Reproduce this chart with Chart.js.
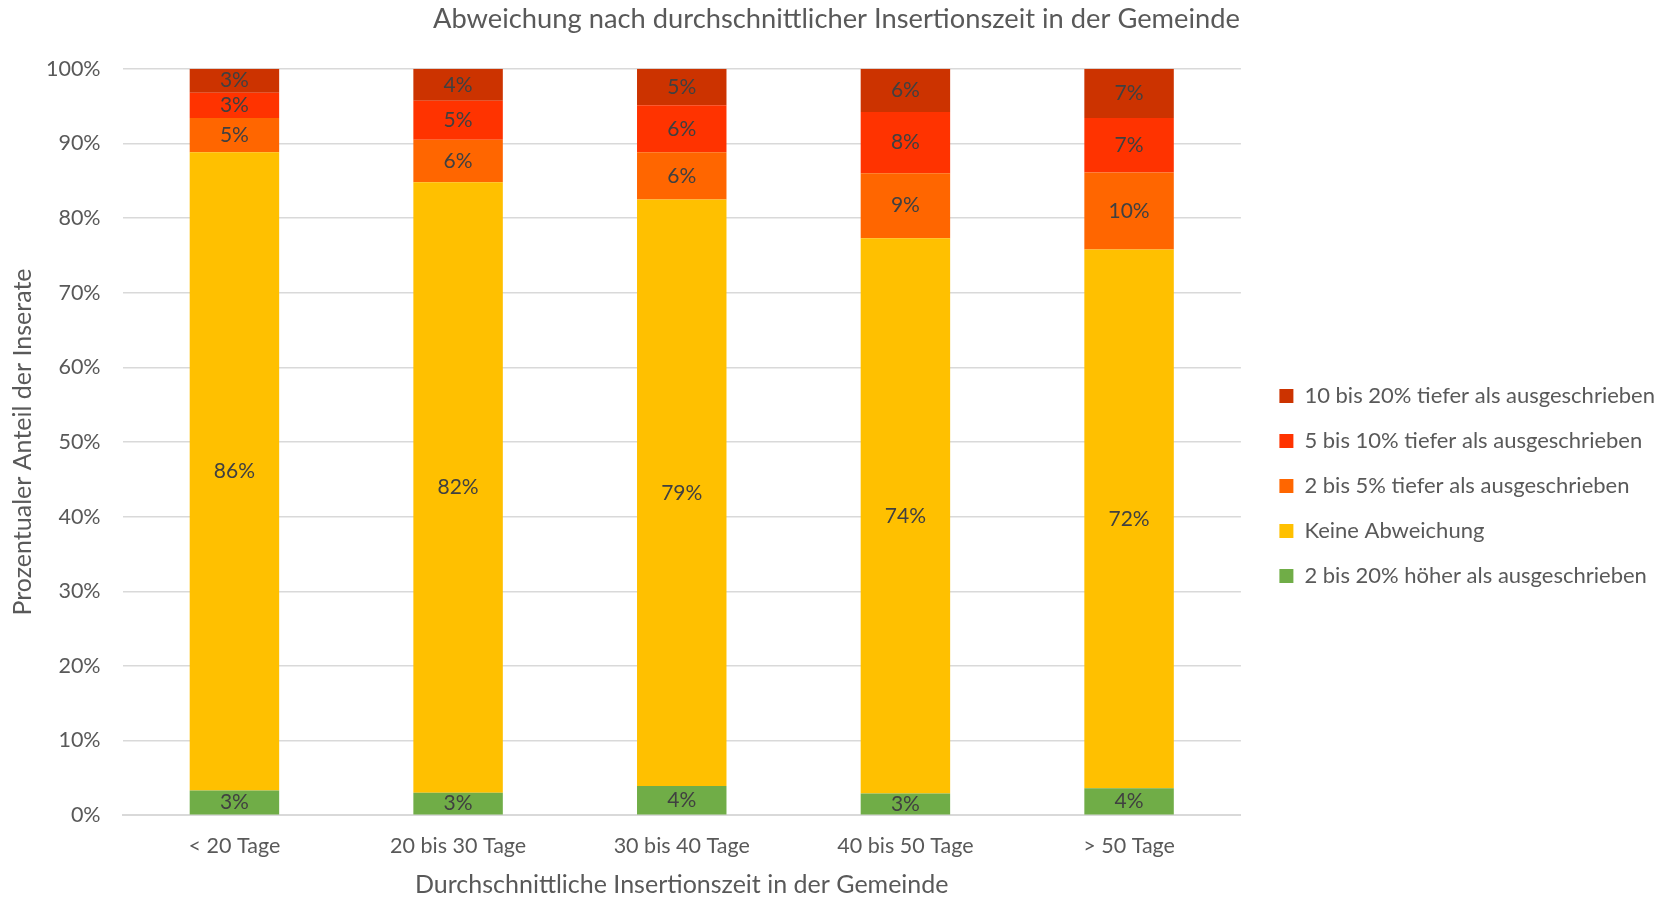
<!DOCTYPE html>
<html>
<head>
<meta charset="utf-8">
<script src="https://cdn.jsdelivr.net/npm/chart.js@4/dist/chart.umd.min.js"></script>
<style>
  body { margin: 0; background: #fff; }
  #wrap { width: 1671px; height: 897px; }
</style>
</head>
<body>
<div id="wrap"><canvas id="chart" width="1671" height="897"></canvas></div>
<script>
// categories and series (percent of listings)
const categories = ['< 20 Tage', '20 bis 30 Tage', '30 bis 40 Tage', '40 bis 50 Tage', '> 50 Tage'];
const hoeher = [3.3, 3.0, 3.9, 2.9, 3.6];
const keineAbw = [85.5, 81.8, 78.6, 74.4, 72.2];
const tiefer2bis5 = [4.6, 5.7, 6.3, 8.7, 10.3];
const tiefer5bis10 = [3.4, 5.2, 6.3, 8.2, 7.3];
const tiefer10bis20 = [3.2, 4.3, 4.9, 5.8, 6.6];
const yTicks = [0, 10, 20, 30, 40, 50, 60, 70, 80, 90, 100];

const font = 'Lato, "Open Sans", sans-serif';
const textColor = '#595959';
const legendGapPx = 15.5;

// small plugin to write the rounded value in the middle of each segment
const segmentLabels = {
    id: 'segmentLabels',
    afterDatasetsDraw(chart) {
        const ctx = chart.ctx;
        ctx.save();
        ctx.font = '21px ' + font;
        ctx.fillStyle = '#404040';
        ctx.textAlign = 'center';
        ctx.textBaseline = 'middle';
        chart.data.datasets.forEach((ds, i) => {
            chart.getDatasetMeta(i).data.forEach((bar, j) => {
                const mid = (bar.y + bar.base) / 2;
                ctx.fillText(Math.round(ds.data[j]) + '%', bar.x, mid);
            });
        });
        ctx.restore();
    }
};

// widen the space between plot area and legend
const legendGap = {
    id: 'legendGap',
    beforeLayout(chart) {
        const lg = chart.legend;
        if (lg && !lg._gapPatched) {
            lg._gapPatched = true;
            const origFit = lg.fit;
            lg.fit = function () {
                origFit.call(this);
                this.width += legendGapPx;
            };
        }
    },
    afterLayout(chart) {
        if (chart.legend) chart.legend.left += legendGapPx;
    }
};

new Chart(document.getElementById('chart'), {
    type: 'bar',
    data: {
        labels: categories,
        datasets: [
            { label: '2 bis 20% höher als ausgeschrieben', data: hoeher, backgroundColor: '#70AD47' },
            { label: 'Keine Abweichung', data: keineAbw, backgroundColor: '#FFC000' },
            { label: '2 bis 5% tiefer als ausgeschrieben', data: tiefer2bis5, backgroundColor: '#FF6600' },
            { label: '5 bis 10% tiefer als ausgeschrieben', data: tiefer5bis10, backgroundColor: '#FF3300' },
            { label: '10 bis 20% tiefer als ausgeschrieben', data: tiefer10bis20, backgroundColor: '#CC3300' }
        ]
    },
    options: {
        responsive: false,
        animation: false,
        datasets: { bar: { barPercentage: 1, categoryPercentage: 0.4, borderWidth: 0 } },
        layout: { padding: { left: 8, right: 6, top: 0, bottom: 0 } },
        plugins: {
            title: {
                display: true,
                text: 'Abweichung nach durchschnittlicher Insertionszeit in der Gemeinde',
                color: textColor,
                font: { family: font, size: 27.3, weight: 'normal' },
                padding: { top: 3, bottom: 33 }
            },
            legend: {
                position: 'right',
                reverse: true,
                title: { display: true, text: ' ', font: { size: 4 }, padding: { top: 70, bottom: 0 } },
                labels: {
                    color: textColor,
                    font: { family: font, size: 22 },
                    boxWidth: 14,
                    boxHeight: 14,
                    padding: 23
                }
            },
            tooltip: { enabled: false }
        },
        scales: {
            x: {
                stacked: true,
                grid: { display: false },
                border: { color: '#d9d9d9', width: 2 },
                ticks: { color: textColor, font: { family: font, size: 21.5 }, padding: 10 },
                title: {
                    display: true,
                    text: 'Durchschnittliche Insertionszeit in der Gemeinde',
                    color: textColor,
                    font: { family: font, size: 25, lineHeight: 1 },
                    padding: { top: 3, bottom: 0 }
                }
            },
            y: {
                stacked: true,
                min: 0,
                max: 100,
                afterBuildTicks: axis => { axis.ticks = yTicks.map(v => ({ value: v })); },
                afterFit: axis => { axis.width = 114.6; },
                grid: { color: '#d9d9d9', lineWidth: 1.5, drawTicks: false },
                border: { display: false },
                ticks: { color: textColor, font: { family: font, size: 21.5 }, padding: 22, callback: v => v + '%' },
                title: {
                    display: true,
                    text: 'Prozentualer Anteil der Inserate',
                    color: textColor,
                    font: { family: font, size: 25 },
                    padding: { top: 0, bottom: 8 }
                }
            }
        }
    },
    plugins: [segmentLabels, legendGap]
});
</script>
</body>
</html>
